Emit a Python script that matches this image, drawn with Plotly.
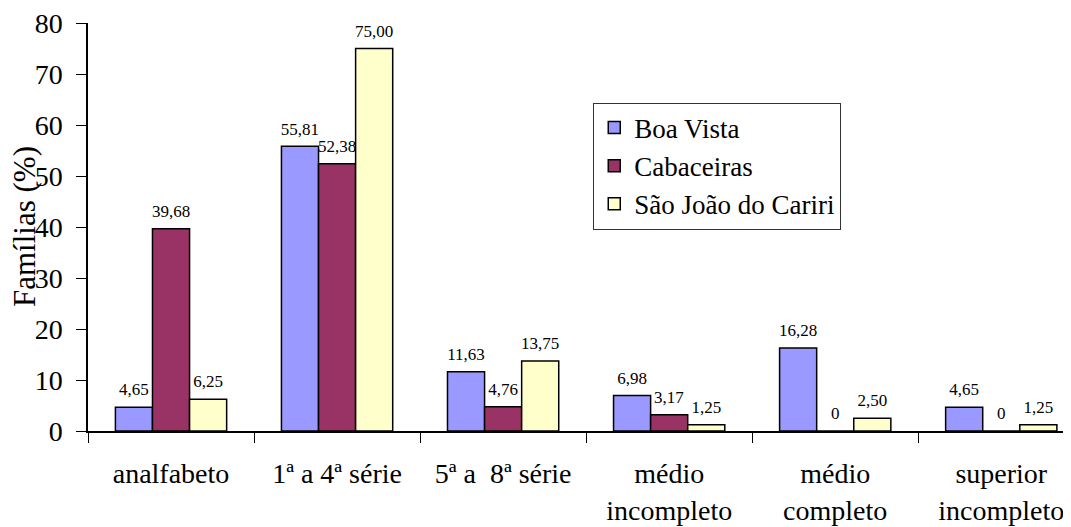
import plotly.graph_objects as go

categories = ["analfabeto", "1ª a 4ª série", "5ª a  8ª série", "médio<br>incompleto", "médio<br>completo", "superior<br>incompleto"]
boa_vista = [4.65, 55.81, 11.63, 6.98, 16.28, 4.65]
cabaceiras = [39.68, 52.38, 4.76, 3.17, 0, 0]
sao_joao = [6.25, 75.00, 13.75, 1.25, 2.50, 1.25]
series_names = ["Boa Vista", "Cabaceiras", "São João do Cariri"]
y_ticks = [0, 10, 20, 30, 40, 50, 60, 70, 80]

colors = ["#9999FF", "#993366", "#FFFFCC"]
FONT = "Liberation Serif, Times New Roman, serif"


def fmt(v):
    return "0" if v == 0 else f"{v:.2f}".replace(".", ",")


fig = go.Figure()
for name, vals, col in zip(series_names, [boa_vista, cabaceiras, sao_joao], colors):
    fig.add_trace(go.Bar(
        x=categories, y=vals, name=name,
        marker=dict(color=col, line=dict(color="black", width=1.5)),
        text=[fmt(v) for v in vals], textposition="outside",
        texttemplate="<span style='font-size:17px'>%{text}</span><br> ",
        textfont=dict(family=FONT, size=6, color="black"),
        constraintext="none",
        cliponaxis=False,
    ))

# page body has an 8px default margin; size the figure so its plot lands where the reference's does
fig.update_layout(
    width=1063, height=519,
    margin=dict(l=80, r=0, t=13, b=96),
    paper_bgcolor="white", plot_bgcolor="white",
    barmode="group", bargap=0.33, bargroupgap=0,
    font=dict(family=FONT, color="black"),
    showlegend=True,
    legend=dict(
        x=0.514, y=0.805, xanchor="left", yanchor="top",
        bordercolor="#333333", borderwidth=1, bgcolor="white",
        font=dict(family=FONT, size=27, color="black"),
        itemwidth=30, tracegroupgap=0,
    ),
    xaxis=dict(
        range=[-0.5, 5.42],
        showline=True, linecolor="black", linewidth=1.5,
        ticks="outside", tickson="boundaries", ticklen=10, tickcolor="black", tickwidth=1,
        tickfont=dict(family=FONT, size=28, color="black"),
        ticklabelstandoff=17, ticklabeloverflow="allow",
        showgrid=False, zeroline=False,
    ),
    yaxis=dict(
        range=[0, 80], tickvals=y_ticks,
        showline=True, linecolor="black", linewidth=1.5,
        ticks="outside", ticklen=10, tickcolor="black", tickwidth=1,
        tickfont=dict(family=FONT, size=28, color="black"),
        ticklabelstandoff=8, ticklabeloverflow="allow",
        showgrid=False, zeroline=False,
    ),
    annotations=[dict(
        text="Famílias (%)", textangle=-90,
        xref="paper", yref="paper", x=0, y=0.5,
        xanchor="center", yanchor="middle", xshift=-64,
        showarrow=False, font=dict(family=FONT, size=31, color="black"),
    )],
)

fig.write_html("out.html")
